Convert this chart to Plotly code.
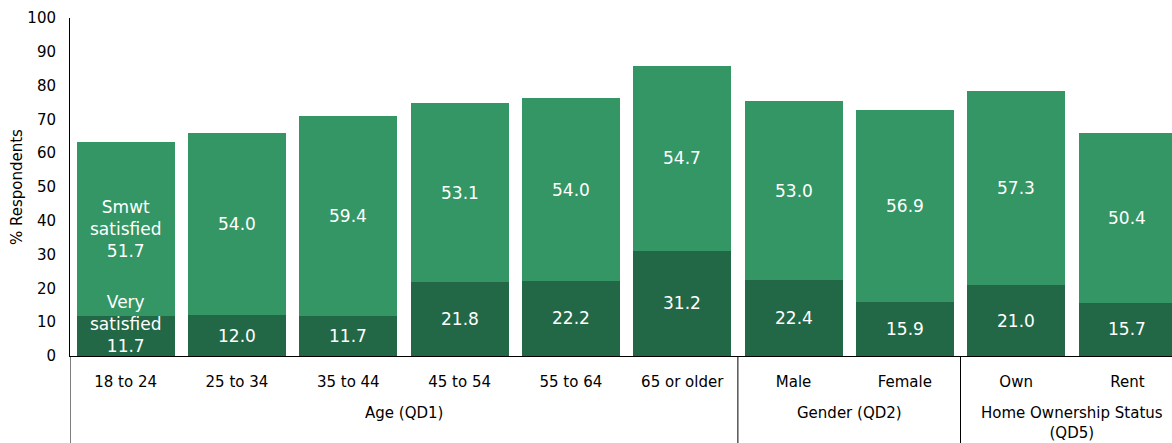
import plotly.graph_objects as go

categories = ["18 to 24", "25 to 34", "35 to 44", "45 to 54", "55 to 64",
              "65 or older", "Male", "Female", "Own", "Rent"]
very_satisfied = [11.7, 12.0, 11.7, 21.8, 22.2, 31.2, 22.4, 15.9, 21.0, 15.7]
smwt_satisfied = [51.7, 54.0, 59.4, 53.1, 54.0, 54.7, 53.0, 56.9, 57.3, 50.4]
groups = [("Age (QD1)", 0, 5), ("Gender (QD2)", 6, 7), ("Home Ownership Status<br>(QD5)", 8, 9)]
y_ticks = list(range(0, 101, 10))

DARK = "#236846"
LIGHT = "#339664"
FONT = "DejaVu Sans"

x = list(range(len(categories)))

fig = go.Figure()
fig.add_trace(go.Bar(x=x, y=very_satisfied, marker=dict(color=DARK, line=dict(width=0)),
                     name="Very satisfied", hoverinfo="y"))
fig.add_trace(go.Bar(x=x, y=smwt_satisfied, marker=dict(color=LIGHT, line=dict(width=0)),
                     name="Smwt satisfied", hoverinfo="y"))

annotations = []
for i, (v, s) in enumerate(zip(very_satisfied, smwt_satisfied)):
    if i == 0:
        tv = f"Very<br>satisfied<br>{v:.1f}"
        ts = f"Smwt<br>satisfied<br>{s:.1f}"
        ysh = 12
    else:
        tv = f"{v:.1f}"
        ts = f"{s:.1f}"
        ysh = 0
    annotations.append(dict(x=i, y=v / 2, xref="x", yref="y", text=tv, showarrow=False,
                            yshift=ysh, font=dict(color="white", size=17, family=FONT)))
    annotations.append(dict(x=i, y=v + s / 2, xref="x", yref="y", text=ts, showarrow=False,
                            font=dict(color="white", size=17, family=FONT)))

# group labels
for name, a, b in groups:
    annotations.append(dict(x=(a + b) / 2, y=-0.135, xref="x", yref="paper", text=name,
                            showarrow=False, yanchor="top",
                            font=dict(color="black", size=15, family=FONT)))

annotations.append(dict(x=-0.048, y=0.5, xref="paper", yref="paper", text="% Respondents",
                        textangle=-90, showarrow=False, xanchor="center", yanchor="middle",
                        font=dict(color="black", size=15, family=FONT)))

shapes = []
# dividers between groups, and extension of y axis line
div_positions = [-0.5] + [g[1] - 0.5 for g in groups[1:]]
for d in div_positions:
    shapes.append(dict(type="line", xref="x", yref="paper", x0=d, x1=d, y0=0, y1=-0.26,
                       line=dict(color="black", width=1)))

fig.update_layout(
    barmode="stack",
    bargap=0.12,
    width=1172, height=443,
    margin=dict(l=70, r=0, t=18, b=87, autoexpand=False),
    plot_bgcolor="white", paper_bgcolor="white",
    showlegend=False,
    font=dict(family=FONT, size=15, color="black"),
    annotations=annotations,
    shapes=shapes,
    xaxis=dict(range=[-0.5, 9.4], tickmode="array", tickvals=x, ticktext=categories,
               showgrid=False, zeroline=False, showline=True, linecolor="black", linewidth=1,
               ticks="", ticklabelstandoff=12, automargin=False,
               tickfont=dict(size=15, family=FONT)),
    yaxis=dict(range=[0, 100], tickmode="array", tickvals=y_ticks, showgrid=False,
               zeroline=False, showline=True, linecolor="black", linewidth=1, ticks="",
               ticklabelstandoff=10, automargin=False, tickfont=dict(size=15, family=FONT)),
)

fig.write_html("out.html", config={"displayModeBar": False},
               post_script="document.body.style.margin='0';document.body.style.overflow='hidden';")
